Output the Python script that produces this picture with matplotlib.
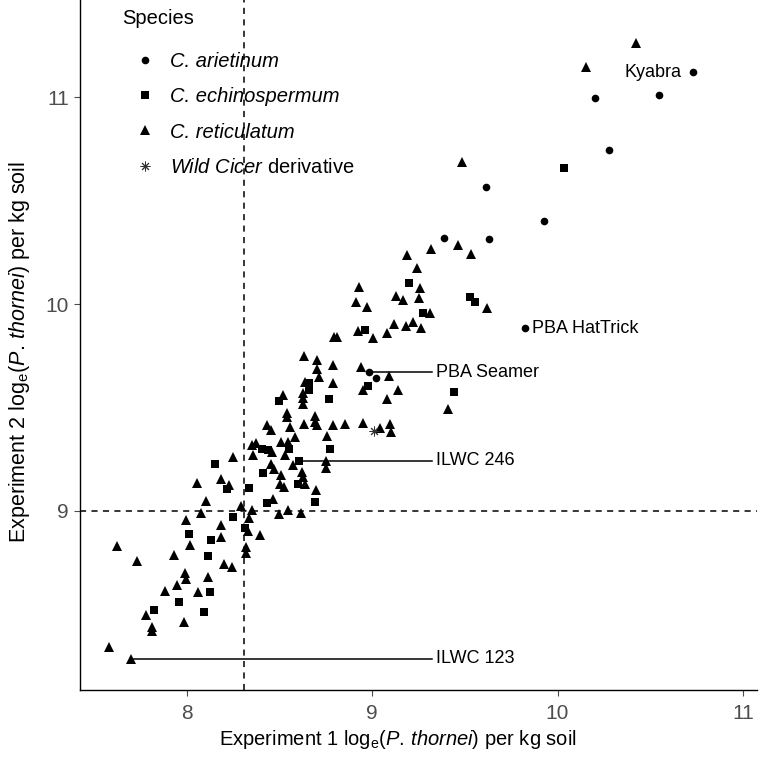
import matplotlib
matplotlib.use("Agg")
import matplotlib.pyplot as plt
from matplotlib.lines import Line2D

## Values (Experiment 1 vs Experiment 2, loge P. thornei / kg soil)
arietinum_x = [10.73, 10.20, 10.547, 10.277, 9.927, 9.614, 9.630, 9.387, 9.824, 8.982, 9.020]
arietinum_y = [11.12, 10.995, 11.01, 10.744, 10.401, 10.565, 10.314, 10.319, 9.884, 9.671, 9.643]

echinospermum_x = [10.035, 9.527, 9.554, 9.274, 9.198, 8.961, 8.658, 8.658, 8.496, 8.766,
                   8.977, 9.441, 8.772, 8.604, 8.599, 8.691, 8.151, 8.410, 8.216, 8.335,
                   8.405, 8.437, 8.550, 8.432, 8.248, 8.313, 8.011, 8.130, 8.113, 8.124,
                   7.957, 7.822, 8.092]
echinospermum_y = [10.657, 10.034, 10.010, 9.957, 10.101, 9.874, 9.618, 9.585, 9.531, 9.541,
                   9.604, 9.575, 9.300, 9.242, 9.130, 9.043, 9.227, 9.184, 9.106, 9.111,
                   9.300, 9.295, 9.300, 9.039, 8.971, 8.918, 8.889, 8.860, 8.783, 8.609,
                   8.560, 8.522, 8.512]

reticulatum_x = [10.423, 10.153, 9.484, 9.317, 9.462, 9.533, 9.619, 9.263, 9.311, 9.257,
                 9.252, 9.187, 9.241, 8.928, 8.912, 8.971, 9.128, 9.166, 9.117, 9.182,
                 9.220, 9.079, 8.923, 9.004, 8.793, 8.810, 8.631, 8.702, 8.788, 8.702,
                 8.712, 8.637, 8.788, 8.939, 9.090, 9.139, 8.950, 9.079, 9.409, 8.626,
                 8.626, 8.626, 8.518, 8.540, 8.540, 8.691, 8.691, 8.432, 8.453, 8.556,
                 8.631, 8.702, 8.788, 8.853, 8.950, 9.042, 9.096, 9.101, 8.756, 8.583,
                 8.507, 8.545, 8.351, 8.372, 8.356, 8.459, 8.529, 8.248, 8.750, 8.750,
                 8.453, 8.470, 8.572, 8.621, 8.626, 8.507, 8.502, 8.523, 8.637, 8.696,
                 8.054, 8.183, 8.227, 8.103, 8.464, 8.076, 8.291, 8.351, 8.335, 8.496,
                 8.545, 8.615, 7.995, 8.183, 8.329, 8.394, 8.183, 8.016, 7.622, 8.318,
                 8.318, 7.730, 7.930, 8.200, 8.243, 7.989, 7.995, 8.113, 7.946, 7.881,
                 8.059, 7.779, 7.811, 7.811, 7.984, 7.579, 7.698]
reticulatum_y = [11.261, 11.145, 10.686, 10.266, 10.285, 10.242, 9.981, 9.884, 9.957, 10.077,
                 10.029, 10.237, 10.174, 10.082, 10.010, 9.986, 10.039, 10.019, 9.903, 9.894,
                 9.913, 9.860, 9.870, 9.836, 9.841, 9.841, 9.749, 9.729, 9.705, 9.686,
                 9.647, 9.623, 9.618, 9.696, 9.652, 9.585, 9.585, 9.541, 9.493, 9.570,
                 9.546, 9.517, 9.560, 9.473, 9.454, 9.459, 9.430, 9.415, 9.391, 9.406,
                 9.420, 9.415, 9.415, 9.420, 9.425, 9.401, 9.420, 9.382, 9.362, 9.357,
                 9.333, 9.333, 9.319, 9.329, 9.271, 9.285, 9.271, 9.261, 9.242, 9.208,
                 9.227, 9.203, 9.222, 9.188, 9.164, 9.174, 9.130, 9.116, 9.130, 9.101,
                 9.135, 9.155, 9.126, 9.048, 9.058, 8.990, 9.024, 9.005, 8.966, 8.986,
                 9.005, 8.990, 8.957, 8.932, 8.903, 8.884, 8.874, 8.836, 8.831, 8.826,
                 8.797, 8.758, 8.787, 8.744, 8.729, 8.700, 8.671, 8.681, 8.643, 8.614,
                 8.609, 8.498, 8.440, 8.420, 8.464, 8.343, 8.285]

wild_x = [9.009]
wild_y = [9.386]

## cut-off lines
cut_x = 8.31
cut_y = 9.0

## labelled genotypes: name, point x, point y
lead_names = ['PBA Seamer', 'ILWC 246', 'ILWC 123']
lead_x = [8.982, 8.604, 7.698]
lead_y = [9.671, 9.242, 8.285]
lead_end = 9.322

species = ['C. arietinum', 'C. echinospermum', 'C. reticulatum',
           r'$\mathit{Wild\ Cicer}$ derivative']

plt.rcParams['font.family'] = ['Liberation Sans', 'DejaVu Sans']
plt.rcParams['mathtext.fontset'] = 'custom'
plt.rcParams['mathtext.rm'] = 'Liberation Sans'
plt.rcParams['mathtext.it'] = 'Liberation Sans:italic'

fig = plt.figure(figsize=(7.6, 7.58), dpi=100)
ax = fig.add_axes([0.105, 0.0897, 0.891, 0.9103])

ax.axvline(cut_x, color='black', ls=(0, (4, 3.5)), lw=1.1, zorder=1)
ax.axhline(cut_y, color='black', ls=(0, (4, 3.5)), lw=1.1, zorder=1)

for name, x, y in zip(lead_names, lead_x, lead_y):
    ax.plot([x, lead_end], [y, y], color='black', lw=1.1, zorder=1)
    ax.annotate(name, xy=(lead_end, y), xytext=(3, 0), textcoords='offset points',
                ha='left', va='center', fontsize=13)

ax.annotate('Kyabra', xy=(arietinum_x[0], arietinum_y[0]), xytext=(-8, 0),
            textcoords='offset points', ha='right', va='center', fontsize=13)
ax.annotate('PBA HatTrick', xy=(arietinum_x[8], arietinum_y[8]), xytext=(5, 0),
            textcoords='offset points', ha='left', va='center', fontsize=13)

ax.plot(arietinum_x, arietinum_y, 'o', color='black', ms=5.5, mew=0, ls='none', zorder=3)
ax.plot(echinospermum_x, echinospermum_y, 's', color='black', ms=5.3, mew=0, ls='none', zorder=3)
ax.plot(reticulatum_x, reticulatum_y, '^', color='black', ms=6.7, mew=0, ls='none', zorder=3)
ax.plot(wild_x, wild_y, marker=(8, 2, 0), color='#333333', ms=7, mew=0.7, ls='none', zorder=3)

ax.set_xlim(7.4226, 11.076)
ax.set_ylim(8.135, 11.469)
ax.set_xticks([8, 9, 10, 11])
ax.set_yticks([9, 10, 11])
ax.tick_params(colors='#4D4D4D', labelsize=15, length=4, width=0.8, pad=4)
ax.tick_params(axis='x', pad=6)

for s in ['top', 'right']:
    ax.spines[s].set_visible(False)
for s in ['left', 'bottom']:
    ax.spines[s].set_linewidth(1.0)

ax.set_xlabel(r'Experiment 1 log$_{\mathrm{e}}$($\mathit{P.\,thornei}$) per kg soil', fontsize=14.5)
ax.set_ylabel(r'Experiment 2 log$_{\mathrm{e}}$($\mathit{P.\,thornei}$) per kg soil', fontsize=15.5)
ax.xaxis.set_label_coords(0.47, -0.055)
ax.yaxis.set_label_coords(-0.07, 0.49)

handles = [
    Line2D([], [], marker='o', color='black', ms=5.5, mew=0, ls='none'),
    Line2D([], [], marker='s', color='black', ms=5.3, mew=0, ls='none'),
    Line2D([], [], marker='^', color='black', ms=6.7, mew=0, ls='none'),
    Line2D([], [], marker=(8, 2, 0), color='#333333', ms=7, mew=0.7, ls='none'),
]
fig.text(122 / 760, 1 - 18 / 758, 'Species', fontsize=14.5, ha='left', va='center')
leg = ax.legend(handles, species, loc='upper left',
                bbox_to_anchor=(0.170, 0.931), bbox_transform=fig.transFigure,
                frameon=False, fontsize=14.5, handlelength=1.6, handletextpad=0.45,
                labelspacing=0.8, borderpad=0, borderaxespad=0)
for t in leg.get_texts()[:3]:
    t.set_fontstyle('italic')

fig.savefig('out.png', dpi=100)
